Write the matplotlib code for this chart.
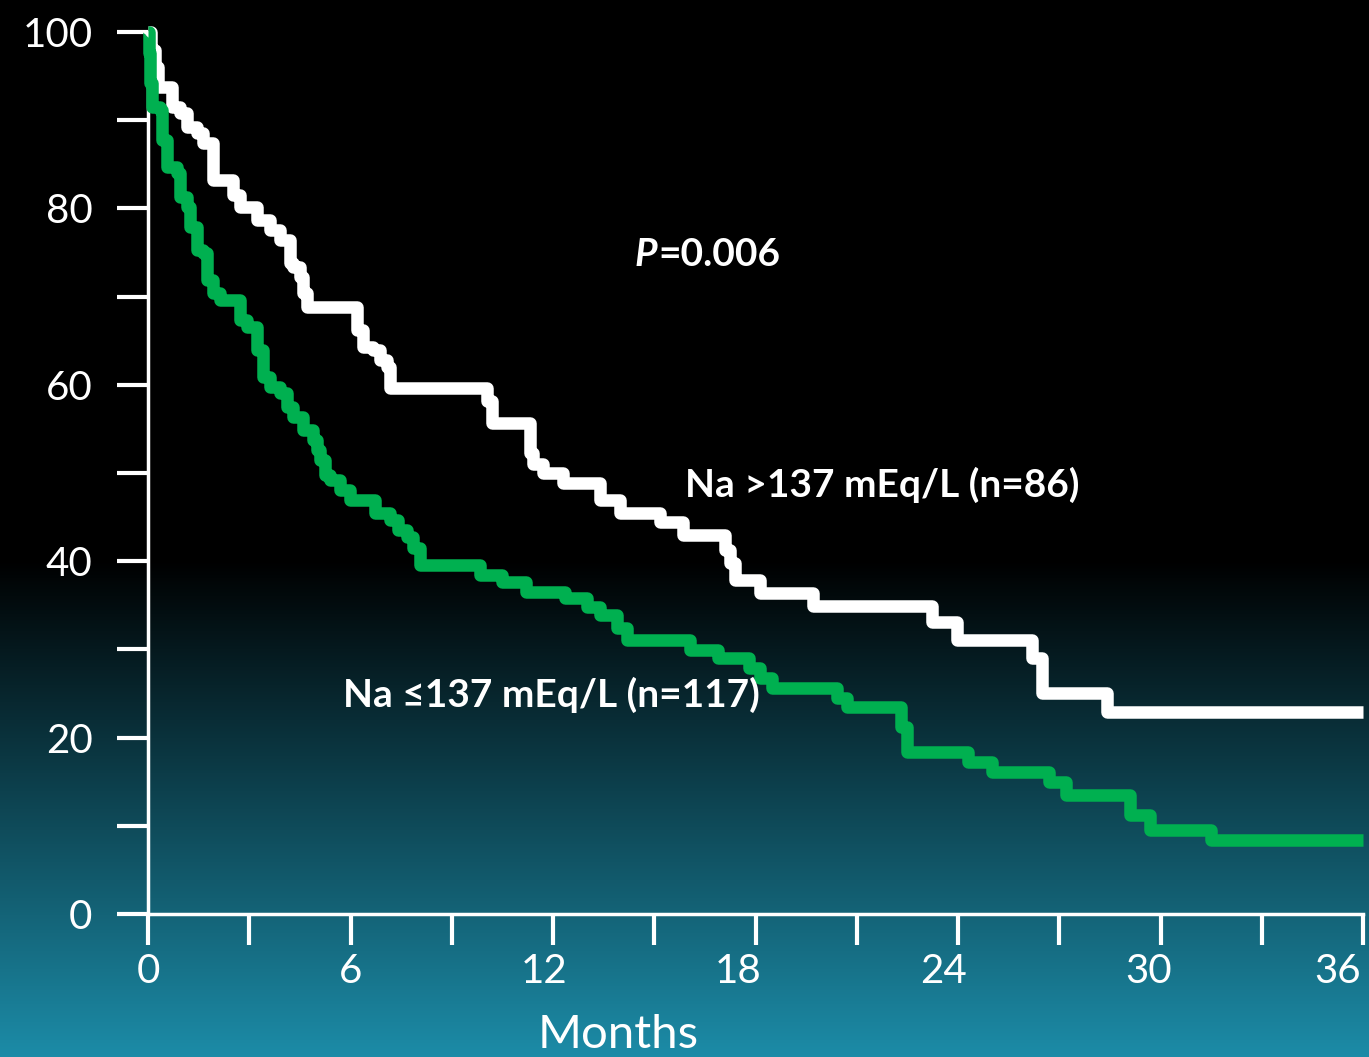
import numpy as np
import matplotlib
matplotlib.use("Agg")
import matplotlib.pyplot as plt
from matplotlib.ticker import MultipleLocator
from matplotlib.transforms import ScaledTranslation

plt.rcParams['font.family'] = ['Lato', 'DejaVu Sans']

# ---- data ----
high_t = [0, 0.1, 0.2, 0.3, 0.71, 0.95, 1.16, 1.45, 1.63, 1.93, 2.52, 2.73, 3.23, 3.61,
          3.91, 4.21, 4.30, 4.50, 4.59, 4.71, 6.19, 6.37, 6.67, 6.87, 7.08, 7.17, 10.04,
          10.19, 11.32, 11.41, 11.70, 12.30, 13.40, 13.99, 15.17, 15.85, 17.10, 17.24,
          17.39, 17.45, 18.13, 19.70, 23.23, 23.97, 26.20, 26.50, 28.40, 36.0]
high_s = [100, 98, 96, 93.8, 91.5, 90.8, 89.2, 88.5, 87.4, 83.2, 81.5, 80.2, 78.7, 77.6,
          76.4, 73.8, 73.4, 72.2, 70.4, 68.8, 66.2, 64.3, 63.9, 62.8, 62.0, 59.6, 58.2,
          55.7, 52.3, 51.0, 50.0, 48.9, 46.9, 45.5, 44.4, 43.0, 41.3, 39.8, 37.9, 37.9,
          36.4, 34.9, 33.1, 31.1, 29.0, 25.1, 22.9, 22.9]

low_t = [0, 0.03, 0.06, 0.12, 0.36, 0.41, 0.56, 0.86, 0.95, 1.16, 1.24, 1.45, 1.63, 1.75,
         1.93, 2.13, 2.73, 2.93, 3.23, 3.41, 3.61, 3.91, 4.12, 4.30, 4.59, 4.89, 5.00,
         5.10, 5.24, 5.39, 5.69, 5.99, 6.73, 7.17, 7.41, 7.67, 7.85, 8.06, 9.84, 10.50,
         11.20, 12.36, 13.00, 13.40, 13.90, 14.20, 16.06, 16.90, 17.80, 18.13, 18.50,
         20.40, 20.70, 22.30, 22.50, 24.30, 25.00, 26.70, 27.20, 29.10, 29.70, 31.50, 36.0]
low_s = [100, 97.6, 94.2, 91.5, 91.2, 87.8, 84.7, 84.0, 81.3, 80.2, 77.9, 75.3, 74.9, 71.9,
         70.4, 69.6, 67.3, 66.6, 64.0, 60.9, 59.8, 59.1, 57.5, 56.3, 54.9, 53.7, 52.6,
         51.5, 49.8, 49.2, 48.1, 46.9, 45.5, 44.7, 43.5, 42.7, 41.5, 39.6, 38.4, 37.6,
         36.5, 35.8, 34.8, 33.9, 32.4, 31.1, 29.9, 29.0, 27.9, 26.8, 25.6, 24.5, 23.5,
         21.2, 18.4, 17.2, 16.1, 15.0, 13.5, 11.2, 9.5, 8.4, 8.4]

x_major = [0, 6, 12, 18, 24, 30, 36]
y_major = [0, 20, 40, 60, 80, 100]
label_high = "Na >137 mEq/L (n=86)"
label_low = "Na \u2264137 mEq/L (n=117)"
p_value = "=0.006"

W, H = 1369, 1057
fig = plt.figure(figsize=(W / 100, H / 100), dpi=100)

# background gradient
bg = fig.add_axes([0, 0, 1, 1], zorder=-10)
rows = np.arange(H)
frac = np.clip((rows - 560) / (H - 560), 0, 1)
top = np.array([0, 0, 0]) / 255
bot = np.array([28, 140, 168]) / 255
grad = top[None, :] * (1 - frac[:, None]) + bot[None, :] * frac[:, None]
img = np.repeat(grad[:, None, :], 4, axis=1)
bg.imshow(img, aspect='auto', extent=[0, 1, 0, 1], origin='upper')
bg.set_axis_off()

ax = fig.add_axes([148 / W, (H - 914) / H, (1363 - 148) / W, (914 - 32) / H])
ax.set_facecolor('none')

ax.plot(high_t, high_s, drawstyle='steps-post', color='white', lw=9,
        solid_joinstyle='round', solid_capstyle='butt', clip_on=False, zorder=3)
ax.plot(low_t, low_s, drawstyle='steps-post', color='#00B050', lw=9,
        solid_joinstyle='round', solid_capstyle='butt', clip_on=False, zorder=4)

ax.set_xlim(0, 36)
ax.set_ylim(0, 100)
for s in ['top', 'right']:
    ax.spines[s].set_visible(False)
for s in ['left', 'bottom']:
    ax.spines[s].set_color('white')
    ax.spines[s].set_linewidth(2.5)

ax.set_xticks(x_major)
ax.set_xticklabels([str(v) for v in x_major])
ax.xaxis.set_minor_locator(MultipleLocator(3))
ax.set_yticks(y_major)
ax.set_yticklabels([str(v) for v in y_major])
ax.yaxis.set_minor_locator(MultipleLocator(10))

ax.tick_params(axis='both', which='both', direction='out', color='white',
               length=22, width=3, labelcolor='white', labelsize=29)
ax.tick_params(axis='y', which='both', pad=18)
ax.tick_params(axis='x', which='both', pad=6)

# horizontal nudges of the x tick labels as in the reference (pixels)
x_label_shift = [0, 0, -9, -17, -15, -12, -25]
for lab, dx in zip(ax.get_xticklabels(), x_label_shift):
    lab.set_transform(lab.get_transform() + ScaledTranslation(dx / 100, 0, fig.dpi_scale_trans))

fig.text(618 / W, 1 - 1035 / H, "Months", color='white', fontsize=34,
         ha='center', va='center')

tp = fig.text(635 / W, 1 - 255 / H, "P", color='white', fontsize=28, fontweight='bold',
              fontstyle='italic', ha='left', va='center')
fig.canvas.draw()
bb = tp.get_window_extent(fig.canvas.get_renderer())
fig.text(bb.x1 / W + 1 / W, 1 - 255 / H, p_value, color='white', fontsize=28,
         fontweight='bold', ha='left', va='center')
fig.text(685 / W, 1 - 485 / H, label_high, color='white', fontsize=28,
         fontweight='bold', ha='left', va='center')
fig.text(343 / W, 1 - 695 / H, label_low, color='white', fontsize=28,
         fontweight='bold', ha='left', va='center')

fig.savefig('out.png', dpi=100, facecolor='black')
